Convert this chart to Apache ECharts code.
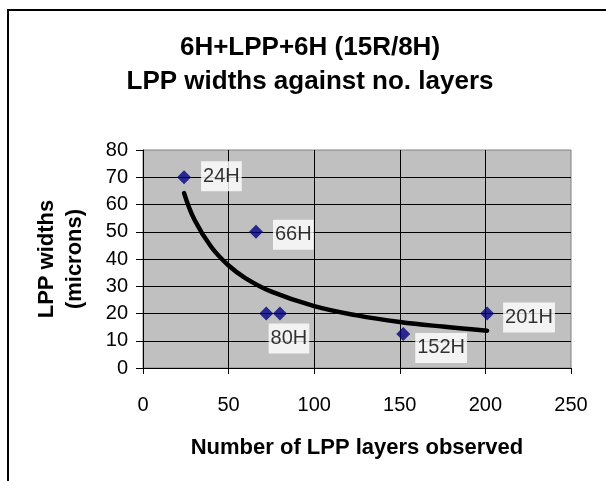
<!DOCTYPE html>
<html>
<head>
<meta charset="utf-8">
<script src="https://cdn.jsdelivr.net/npm/echarts@6/dist/echarts.min.js"></script>
<style>
  html, body { margin: 0; padding: 0; background: #fff; }
  #chart { width: 606px; height: 481px; }
</style>
</head>
<body>
<div id="chart"></div>
<script>
// observed points
const layers = [24, 66, 72, 80, 152, 201]
const widths = [70, 50, 20, 20, 12.5, 20]
const pointNames = ['24H', '66H', '', '80H', '152H', '201H']

// trend curve
const trendX = [24, 30, 40, 50, 60, 75, 100, 125, 150, 175, 201]
const trendY = [64.2, 54.5, 44.3, 37.6, 32.9, 28, 22.7, 19.3, 16.9, 15.2, 13.7]

const xTicks = { min: 0, max: 250, step: 50 }
const yTicks = { min: 0, max: 80, step: 10 }

const font = 'Liberation Sans, Arial, sans-serif'

// where each label sits next to its point
const labelPlace = [
  { position: 'right', distance: 10, offset: [0, -1] },
  { position: 'right', distance: 10, offset: [0, 3] },
  { position: 'right', distance: 10, offset: [0, 0] },
  { position: 'bottom', distance: 3, offset: [9, 0] },
  { position: 'right', distance: 5, offset: [0, 14] },
  { position: 'right', distance: 9, offset: [0, 4] }
]

const scatterData = layers.map((x, i) => ({
  value: [x, widths[i]],
  label: {
    show: pointNames[i] !== '',
    formatter: pointNames[i],
    position: labelPlace[i].position,
    distance: labelPlace[i].distance,
    offset: labelPlace[i].offset
  }
}))

const trendData = trendX.map((x, i) => [x, trendY[i]])

const chart = echarts.init(document.getElementById('chart'), null, { renderer: 'canvas' })
chart.setOption({
  backgroundColor: '#fff',
  animation: false,
  title: {
    text: '6H+LPP+6H (15R/8H)\nLPP widths against no. layers',
    left: 310,
    top: 31,
    padding: 0,
    textAlign: 'center',
    textStyle: {
      fontFamily: font,
      fontSize: 26,
      fontWeight: 'bold',
      color: '#000',
      lineHeight: 34
    }
  },
  graphic: [{
    type: 'rect',
    shape: { x: 8, y: 10, width: 640, height: 520 },
    style: { fill: 'none', stroke: '#000', lineWidth: 2 },
    silent: true
  }],
  grid: {
    left: 143,
    right: 35,
    top: 150,
    bottom: 113,
    show: true,
    backgroundColor: '#C0C0C0',
    borderColor: '#808080',
    borderWidth: 1
  },
  xAxis: {
    type: 'value',
    min: xTicks.min,
    max: xTicks.max,
    interval: xTicks.step,
    name: 'Number of LPP layers observed',
    nameLocation: 'middle',
    nameGap: 69,
    nameTextStyle: { fontFamily: font, fontSize: 22, fontWeight: 'bold', color: '#000' },
    axisLine: { show: true, lineStyle: { color: '#000', width: 1 } },
    axisTick: { show: true, length: 6, lineStyle: { color: '#000' } },
    axisLabel: { margin: 27, fontFamily: font, fontSize: 20, color: '#000' },
    splitLine: { show: true, showMinLine: false, showMaxLine: false, lineStyle: { color: '#000', width: 1 } }
  },
  yAxis: {
    type: 'value',
    min: yTicks.min,
    max: yTicks.max,
    interval: yTicks.step,
    name: 'LPP widths\n(microns)',
    nameLocation: 'middle',
    nameRotate: 90,
    nameGap: 54,
    nameTextStyle: { fontFamily: font, fontSize: 22, fontWeight: 'bold', color: '#000', lineHeight: 28 },
    axisLine: { show: true, lineStyle: { color: '#000', width: 1 } },
    axisTick: { show: true, length: 7, lineStyle: { color: '#000' } },
    axisLabel: { margin: 15, fontFamily: font, fontSize: 20, color: '#000' },
    splitLine: { show: true, showMinLine: false, showMaxLine: false, lineStyle: { color: '#000', width: 1 } }
  },
  series: [{
    name: 'trend',
    type: 'line',
    data: trendData,
    smooth: 0.4,
    showSymbol: false,
    z: 2,
    lineStyle: { color: '#000', width: 4.5, cap: 'round' }
  }, {
    name: 'LPP widths',
    type: 'scatter',
    data: scatterData,
    symbol: 'diamond',
    symbolSize: 14,
    z: 3,
    itemStyle: { color: '#000080' },
    label: {
      fontFamily: font,
      fontSize: 20,
      color: '#000',
      backgroundColor: '#fff',
      padding: [4, 2, 4, 2],
      lineHeight: 22
    }
  }]
})
</script>
</body>
</html>
